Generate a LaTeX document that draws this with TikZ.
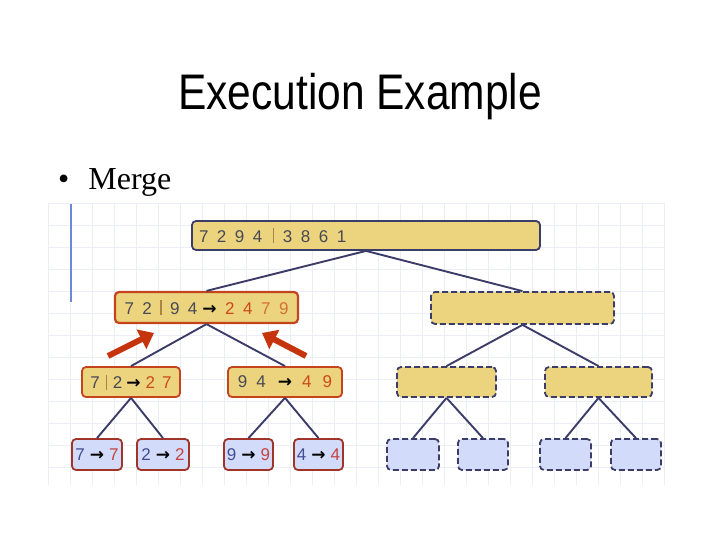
\documentclass[tikz,border=0pt]{standalone}
\usepackage{fontspec}
\setmainfont{Liberation Serif}
\newfontfamily\titlefont{Liberation Sans}
\newfontfamily\digitfont{Liberation Sans}
\newfontfamily\arrowfont{DejaVu Sans}
\usetikzlibrary{arrows.meta}

\definecolor{boxyellow}{RGB}{236,212,126}
\definecolor{boxblue}{RGB}{210,220,250}
\definecolor{navy}{RGB}{60,60,104}
\definecolor{edgered}{RGB}{196,68,30}
\definecolor{leafred}{RGB}{160,52,40}
\definecolor{numin}{RGB}{72,72,86}
\definecolor{numout}{RGB}{204,74,20}
\definecolor{numoutb}{RGB}{212,112,52}
\definecolor{leafin}{RGB}{66,76,146}
\definecolor{leafout}{RGB}{198,66,66}
\definecolor{barcol}{RGB}{170,132,70}
\definecolor{gridcol}{RGB}{235,238,245}
\definecolor{markblue}{RGB}{106,138,216}
\definecolor{pushred}{RGB}{198,52,14}

\newcommand{\gp}[1][8.5pt]{\hspace{#1}}
\newcommand{\splitbar}{\textcolor{barcol}{\rule[-1pt]{1.1pt}{15pt}}}
\newcommand{\goesto}{{\arrowfont\bfseries\color{black}→}}

\tikzset{
    box/.style={rounded corners=4pt, line width=1.8pt, inner sep=0pt,
        font=\digitfont\fontsize{17}{19}\selectfont, text=numin},
    merged/.style={box, draw=edgered, fill=boxyellow},
    pending/.style={box, draw=navy, fill=boxyellow, dash pattern=on 6pt off 3pt},
    leaf/.style={box, draw=leafred, fill=boxblue, minimum height=31pt},
    emptyleaf/.style={box, draw=navy, fill=boxblue, dash pattern=on 6pt off 3pt, minimum height=31pt},
    treeedge/.style={draw=navy, line width=1.9pt},
    gridline/.style={draw=gridcol, line width=0.8pt},
    push/.style={draw=pushred, line width=6pt, -{Triangle[length=14pt,width=21pt]}}
}

\begin{document}
\begin{tikzpicture}[x=1pt,y=-1pt]
\useasboundingbox (0,0) rectangle (720,540);

% background grid
\foreach \gx in {48,70,...,664}{
    \draw[gridline] (\gx,203) -- (\gx,485);
}
\foreach \gy in {203,225,...,485}{
    \draw[gridline] (48,\gy) -- (665,\gy);
}
\draw[markblue, line width=2pt] (71,204) -- (71,302);

\node[anchor=base] (title) at (360,110)
    {\scalebox{0.85}[1]{\titlefont\fontsize{50}{60}\selectfont Execution Example}};
\node[anchor=base west, inner sep=0pt] (merge) at (58,190)
    {\fontsize{32}{38}\selectfont\textbullet\hspace{19pt}Merge};

% tree
\node[box, draw=navy, fill=boxyellow, minimum width=348pt, minimum height=29pt,
      text width=334pt, align=left] (top) at (366,235.5)
    {7\gp 2\gp 9\gp 4\gp[11pt]\splitbar\gp 3\gp 8\gp 6\gp 1};

\node[merged, line width=2.2pt, minimum width=183pt, minimum height=31pt] (L) at (206.5,307.5)
    {7\gp 2\gp\splitbar\gp 9\gp 4\gp[5pt]\goesto\gp\textcolor{numout}{2\gp 4}\gp\textcolor{numoutb}{7\gp 9}};
\node[pending, minimum width=183pt, minimum height=32pt] (R) at (522.5,308) {};

\node[merged, minimum width=98pt, minimum height=30pt] (LL) at (131,382)
    {7\gp[6pt]\splitbar\gp[6pt]2\gp[4pt]\goesto\gp[5pt]\textcolor{numout}{2\gp[7pt]7}};
\node[merged, minimum width=114pt, minimum height=30pt] (LR) at (285,382)
    {9\gp[9pt]4\gp[12pt]\goesto\gp[10pt]\textcolor{numout}{4\gp[11pt]9}};
\node[pending, minimum width=99pt, minimum height=30pt] (RL) at (446.5,382) {};
\node[pending, minimum width=107pt, minimum height=30pt] (RR) at (598.5,382) {};

\foreach \n/\cx/\w/\a in {LLL/97/50/7, LLR/163/52/2, LRL/248.5/49/9, LRR/318.5/49/4}{
    \node[leaf, minimum width=\w pt] (\n) at (\cx,454.5)
        {\textcolor{leafin}{\a}\gp[5pt]\goesto\gp[5pt]\textcolor{leafout}{\a}};
}
\foreach \n/\cx/\w in {RLL/413/52, RLR/483/50, RRL/565.5/51, RRR/636/50}{
    \node[emptyleaf, minimum width=\w pt] (\n) at (\cx,454.5) {};
}

\foreach \u/\v in {%
    top/L, top/R,
    L/LL, L/LR, R/RL, R/RR,
    LL/LLL, LL/LLR, LR/LRL, LR/LRR,
    RL/RLL, RL/RLR, RR/RRL, RR/RRR%
    }{
    \draw[treeedge] (\u.south) -- (\v.north);
}

% merge arrows
\coordinate (pushA) at (108,356);
\coordinate (hitA) at (154,333);
\coordinate (pushB) at (306,356);
\coordinate (hitB) at (262,333);
\draw[push] (pushA) -- (hitA);
\draw[push] (pushB) -- (hitB);

\end{tikzpicture}
\end{document}
